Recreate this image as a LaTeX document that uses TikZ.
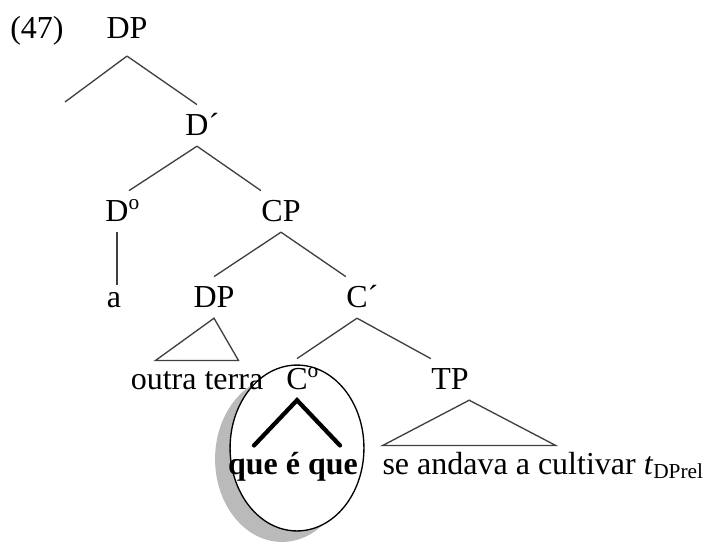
\documentclass[tikz,border=0pt]{standalone}
\usepackage{fontspec}
\setmainfont{Liberation Serif}
\usetikzlibrary{calc}

\begin{document}
\begin{tikzpicture}[x=0.375pt, y=-0.375pt,
    lbl/.style={anchor=base, inner xsep=0pt, inner ysep=4pt, text height=7.2pt, text depth=0pt, font=\fontsize{12}{14}\selectfont},
    leaf/.style={lbl, text height=6.5pt},
    edge/.style={line width=0.5pt, black!75}]
    \useasboundingbox (0,0) rectangle (704,542);
    % circle round the head, with its shadow
    \fill[black!27] (282,459) ellipse [x radius=25.1pt, y radius=31.1pt];
    \draw[fill=white, line width=0.5pt] (297,448) ellipse [x radius=25.1pt, y radius=31.1pt];

    \node[lbl] (ex) at (37,39) {(47)};
    \node[lbl, inner ysep=6.2pt] (dp) at (127,39) {DP};
    \node[lbl] (dbar) at (197,135) {D\rlap{´}};
    \node[lbl] (d0) at (117,221) {D\rlap{\textsuperscript{o}}};
    \node[lbl] (cp) at (281,221) {CP};
    \node[lbl, text height=4pt] (a) at (114,307) {a};
    \node[lbl] (dp2) at (214,307) {DP};
    \node[lbl] (cbar) at (357,307) {C\rlap{´}};
    \node[leaf] (outra) at (197,389) {outra terra};
    \node[lbl] (c0) at (297,389) {C\rlap{\textsuperscript{o}}};
    \node[lbl] (tp) at (450,389) {TP};
    \node[leaf, font=\fontsize{12}{14}\selectfont\bfseries] (que) at (293,474) {que é que};
    \node[leaf, anchor=base west] (se) at (382,474) {se andava a cultivar \textit{t}\textsubscript{DPrel}};
    \coordinate (spec) at (65,102);

    \draw[edge] (dp.south) -- (spec);
    \draw[edge] (dp.south) -- (dbar.north);
    \draw[edge] (dbar.south) -- (d0.north east);
    \draw[edge] (dbar.south) -- (cp.north west);
    \draw[edge] (d0.south) -- (d0.south |- a.north);
    \draw[edge] (cp.south) -- (dp2.north);
    \draw[edge] (cp.south) -- (cbar.north west);
    \draw[edge] (dp2.south) -- ($(outra.north)+(-41.5,0)$) -- ($(outra.north)+(41.5,0)$) -- cycle;
    \draw[edge] (cbar.south) -- (c0.north);
    \draw[edge] (cbar.south) -- (tp.north west);
    \draw[edge] (tp.south east) -- ($(tp.south east |- se.north)+(-86.5,0)$) -- ($(tp.south east |- se.north)+(86.5,0)$) -- cycle;
    \draw[line width=1.6pt, line cap=round] ($(c0.south |- que.north)+(-43,0)$) -- (c0.south) -- ($(c0.south |- que.north)+(43,0)$);
\end{tikzpicture}
\end{document}
